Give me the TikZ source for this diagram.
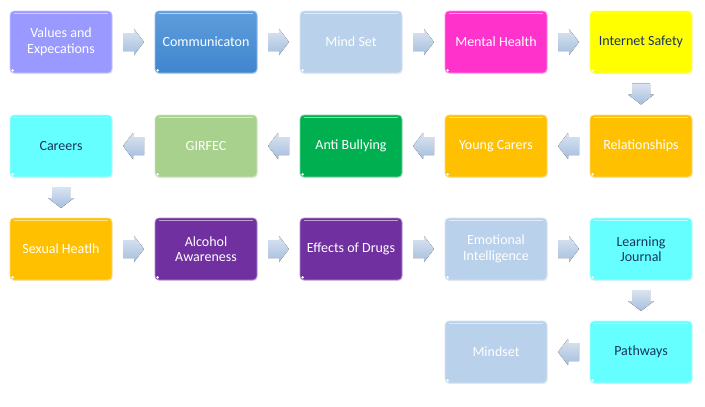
\documentclass[tikz,border=0pt]{standalone}
\usepackage{fontspec}
\setmainfont{Carlito}
\usepackage{xcolor}
\usetikzlibrary{positioning,calc,shadows}

\definecolor{lavender}{HTML}{9999FF}
\definecolor{commblue}{HTML}{3F86CF}
\definecolor{commtop}{HTML}{5E9DDB}
\definecolor{paleblue}{HTML}{B9D1EA}
\definecolor{hotpink}{HTML}{FF33CC}
\definecolor{safeyellow}{HTML}{FFFF00}
\definecolor{amber}{HTML}{FFC000}
\definecolor{bullygreen}{HTML}{00B050}
\definecolor{sage}{HTML}{A9D18E}
\definecolor{aqua}{HTML}{66FFFF}
\definecolor{grape}{HTML}{7030A0}
\definecolor{darktext}{HTML}{17365D}
\definecolor{arrowtop}{HTML}{DAE4F1}
\definecolor{arrowbot}{HTML}{A5BEDD}

% block arrow halfway between two nodes, turned by #3 degrees
\newcommand{\blockarrow}[3]{%
    \fill[flow, shift={($(#1)!0.5!(#2)$)}, rotate=#3]
        (-10.5,-9) -- (0.5,-9) -- (0.5,-13) -- (10.5,0) -- (0.5,13) -- (0.5,9) -- (-10.5,9) -- cycle;}

\begin{document}
\begin{tikzpicture}[x=1pt, y=-1pt,
    topic/.style={draw=#1!55!white, fill=#1, rectangle, rounded corners=4pt, line width=0.8pt,
        minimum width=102pt, minimum height=62pt, align=center, text=white,
        font=\fontsize{14}{15.5}\selectfont,
        drop shadow={shadow xshift=0.6pt, shadow yshift=-1.2pt, opacity=0.15},
        path picture={
            \draw[white, opacity=0.55, line width=1pt]
                ([xshift=4pt,yshift=-2.2pt]path picture bounding box.north west) --
                ([xshift=-4pt,yshift=-2.2pt]path picture bounding box.north east);
            \fill[white] ([xshift=2.6pt,yshift=2.6pt]path picture bounding box.south west) circle (1.4pt);
        }},
    dark/.style={text=darktext},
    flow/.style={top color=arrowtop, bottom color=arrowbot}
]
    \useasboundingbox (0,0) rectangle (705,407);

    % First row
    \node[topic=lavender] (values) at (61,42) {Values and\\Expecations};
    \node[topic=commblue, top color=commtop, bottom color=commblue] (comm) at (206,42) {Communicaton};
    \node[topic=paleblue] (mindset) at (351,42) {Mind Set};
    \node[topic=hotpink] (mental) at (496,42) {Mental Health};
    \node[topic=safeyellow, dark] (internet) at (641,42) {Internet Safety};

    % Second row (right to left)
    \node[topic=amber] (relations) at (641,146) {Relationships};
    \node[topic=amber] (carers) at (496,146) {Young Carers};
    \node[topic=bullygreen] (bullying) at (351,146) {Anti Bullying};
    \node[topic=sage] (girfec) at (206,146) {GIRFEC};
    \node[topic=aqua, dark] (careers) at (61,146) {Careers};

    % Third row
    \node[topic=amber] (sexual) at (61,249) {Sexual Heatlh};
    \node[topic=grape] (alcohol) at (206,249) {Alcohol\\Awareness};
    \node[topic=grape] (drugs) at (351,249) {Effects of Drugs};
    \node[topic=paleblue] (emotional) at (496,249) {Emotional\\Intelligence};
    \node[topic=aqua, dark] (journal) at (641,249) {Learning\\Journal};

    % Fourth row
    \node[topic=aqua, dark] (pathways) at (641,352) {Pathways};
    \node[topic=paleblue] (mindsetb) at (496,352) {Mindset};

    % Block arrows
    \blockarrow{values}{comm}{0}
    \blockarrow{comm}{mindset}{0}
    \blockarrow{mindset}{mental}{0}
    \blockarrow{mental}{internet}{0}
    \blockarrow{internet}{relations}{-90}
    \blockarrow{relations}{carers}{180}
    \blockarrow{carers}{bullying}{180}
    \blockarrow{bullying}{girfec}{180}
    \blockarrow{girfec}{careers}{180}
    \blockarrow{careers}{sexual}{-90}
    \blockarrow{sexual}{alcohol}{0}
    \blockarrow{alcohol}{drugs}{0}
    \blockarrow{drugs}{emotional}{0}
    \blockarrow{emotional}{journal}{0}
    \blockarrow{journal}{pathways}{-90}
    \blockarrow{pathways}{mindsetb}{180}
\end{tikzpicture}
\end{document}
